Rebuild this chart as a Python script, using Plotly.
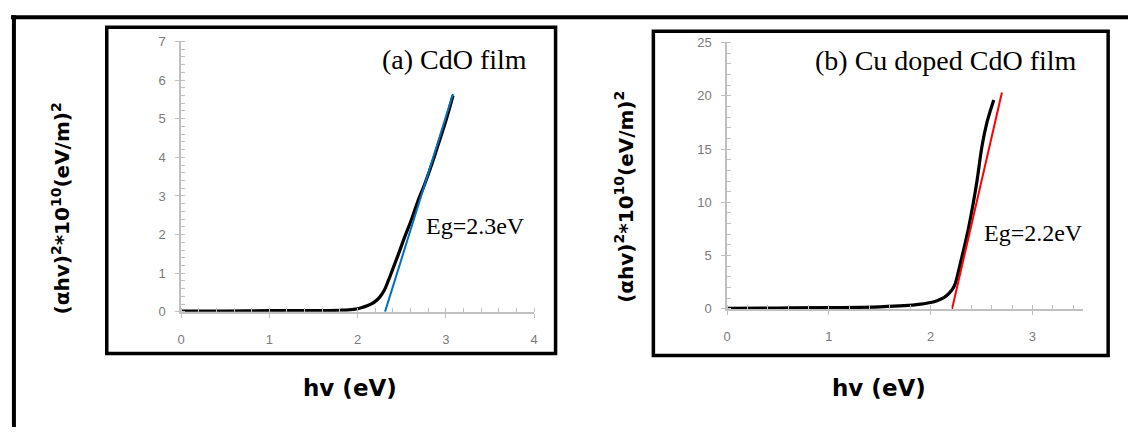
import plotly.graph_objects as go

W, H = 1132, 435

# ---- data ----
cdo_hv = [0, 0.5, 1.0, 1.5, 1.8, 1.9, 2.0, 2.05, 2.1, 2.15, 2.2, 2.25, 2.3, 2.35,
          2.4, 2.46, 2.53, 2.61, 2.68, 2.76, 2.84, 2.91, 3.0, 3.08]
cdo_y = [0.02, 0.02, 0.03, 0.03, 0.04, 0.05, 0.08, 0.11, 0.15, 0.2, 0.27, 0.38, 0.55, 0.82,
         1.12, 1.48, 1.92, 2.39, 2.85, 3.31, 3.82, 4.31, 4.95, 5.6]
cdo_fit_hv = [2.31, 3.08]
cdo_fit_y = [0, 5.64]

cu_hv = [0, 0.5, 1.0, 1.5, 1.74, 1.9, 2.0, 2.07, 2.13, 2.18, 2.23, 2.26, 2.29, 2.33,
         2.37, 2.42, 2.455, 2.505, 2.553, 2.59, 2.62]
cu_y = [0.05, 0.08, 0.12, 0.2, 0.3, 0.45, 0.6, 0.8, 1.05, 1.45, 2.1, 3.0, 4.2, 5.8,
        7.5, 10.0, 12.0, 15.3, 17.5, 18.7, 19.6]
cu_fit_hv = [2.21, 2.70]
cu_fit_y = [0, 20.3]

a_xticks = [0, 1, 2, 3, 4]
a_yticks = [0, 1, 2, 3, 4, 5, 6, 7]
b_xticks = [0, 1, 2, 3]
b_yticks = [0, 5, 10, 15, 20, 25]


def px(x):
    return x / W


def py(y):
    return 1 - y / H


fig = go.Figure()
fig.add_trace(go.Scatter(x=cdo_hv, y=cdo_y, mode="lines", line=dict(color="black", width=3.2),
                         line_shape="spline", xaxis="x", yaxis="y", showlegend=False))
fig.add_trace(go.Scatter(x=cdo_fit_hv, y=cdo_fit_y, mode="lines", line=dict(color="#0070c0", width=2),
                         xaxis="x", yaxis="y", showlegend=False))
fig.add_trace(go.Scatter(x=cu_hv, y=cu_y, mode="lines", line=dict(color="black", width=3.2),
                         line_shape="spline", xaxis="x2", yaxis="y2", showlegend=False))
fig.add_trace(go.Scatter(x=cu_fit_hv, y=cu_fit_y, mode="lines", line=dict(color="#ff0000", width=2),
                         xaxis="x2", yaxis="y2", showlegend=False))

tickfont = dict(family="Liberation Sans", size=13, color="#7a7a7a")
axis_common = dict(showgrid=False, zeroline=False, showline=True, linecolor="#c0c0c0", linewidth=1.5,
                   ticks="outside", ticklen=4, tickcolor="#bfbfbf", tickwidth=1.2, tickfont=tickfont)

fig.update_layout(
    width=W, height=H, margin=dict(l=0, r=0, t=0, b=0),
    paper_bgcolor="white", plot_bgcolor="white",
    xaxis=dict(domain=[px(178.3), px(534)], range=[0, 4], anchor="y", tickvals=a_xticks,
               ticklabelstandoff=11,
               minor=dict(dtick=0.2, ticks="inside", ticklen=4, tickcolor="#bfbfbf"), **axis_common),
    yaxis=dict(domain=[py(315.7), py(35.7)], range=[0, 7], anchor="x", tickvals=a_yticks,
               ticklabelstandoff=7,
               minor=dict(dtick=0.2, ticks="inside", ticklen=4, tickcolor="#bfbfbf"), **axis_common),
    xaxis2=dict(domain=[px(728.3), px(1087)], range=[0, 3.5], anchor="y2", tickvals=b_xticks,
                ticklabelstandoff=11,
                minor=dict(dtick=0.2, ticks="inside", ticklen=4, tickcolor="#bfbfbf"), **axis_common),
    yaxis2=dict(domain=[py(312.7), py(36.7)], range=[0, 25], anchor="x2", tickvals=b_yticks,
                ticklabelstandoff=7,
                minor=dict(dtick=1, ticks="inside", ticklen=4, tickcolor="#bfbfbf"), **axis_common),
)

shapes = []
# outer frame (top and left)
shapes.append(dict(type="line", xref="paper", yref="paper", x0=px(7), x1=px(1132), y0=py(10.5), y1=py(10.5),
                   line=dict(color="black", width=4)))
shapes.append(dict(type="line", xref="paper", yref="paper", x0=px(10), x1=px(10), y0=py(8.5), y1=py(435),
                   line=dict(color="black", width=4)))
# panel boxes
for (x0, x1, y0, y1) in [(103.5, 555.5, 21, 359), (654, 1112, 25, 361)]:
    shapes.append(dict(type="rect", xref="paper", yref="paper", x0=px(x0), x1=px(x1), y0=py(y1), y1=py(y0),
                       line=dict(color="black", width=3.5), fillcolor="rgba(0,0,0,0)"))
fig.update_layout(shapes=shapes)

serif = "Liberation Serif"
bold_sans = "DejaVu Sans"
ylab = "<b>(αhv)<sup>2</sup>*10<sup>10</sup>(eV/m)<sup>2</sup></b>"
ann = [
    dict(text="(a) CdO film", x=px(529), y=py(54), xanchor="right", yanchor="middle",
         font=dict(family=serif, size=28, color="black")),
    dict(text="Eg=2.3eV", x=px(423), y=py(227), xanchor="left", yanchor="middle",
         font=dict(family=serif, size=24, color="black")),
    dict(text="(b) Cu doped CdO film", x=px(1083), y=py(55), xanchor="right", yanchor="middle",
         font=dict(family=serif, size=28, color="black")),
    dict(text="Eg=2.2eV", x=px(985), y=py(234), xanchor="left", yanchor="middle",
         font=dict(family=serif, size=24, color="black")),
    dict(text="<b>hv (eV)</b>", x=px(348), y=py(395), xanchor="center", yanchor="middle",
         font=dict(family=bold_sans, size=23, color="black")),
    dict(text="<b>hv (eV)</b>", x=px(881), y=py(395), xanchor="center", yanchor="middle",
         font=dict(family=bold_sans, size=23, color="black")),
    dict(text=ylab, x=px(57), y=py(209), xanchor="center", yanchor="middle", textangle=-90,
         font=dict(family=bold_sans, size=20, color="black")),
    dict(text=ylab, x=px(625), y=py(197), xanchor="center", yanchor="middle", textangle=-90,
         font=dict(family=bold_sans, size=20, color="black")),
]
for a in ann:
    a.update(xref="paper", yref="paper", showarrow=False)
fig.update_layout(annotations=ann)

fig.write_html("out.html")
